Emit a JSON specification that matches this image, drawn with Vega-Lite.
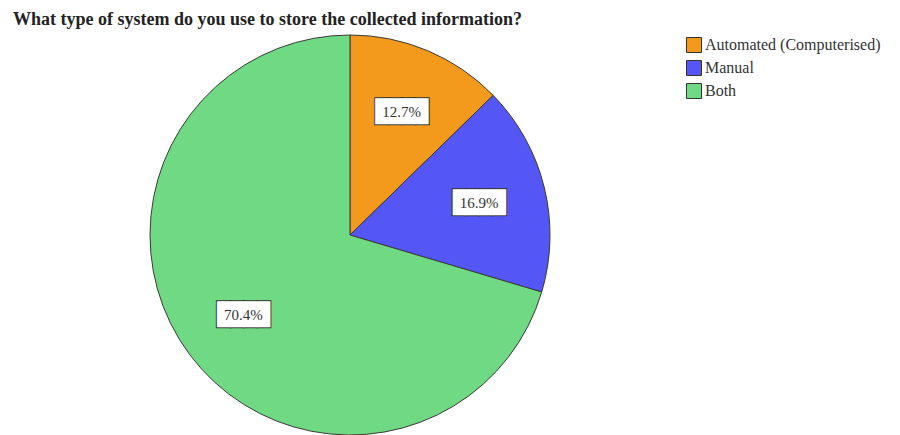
{
  "$schema": "https://vega.github.io/schema/vega-lite/v6.json",
  "width": 700,
  "height": 400,
  "autosize": {"type": "none"},
  "padding": {"left": 0, "top": 35, "right": 200, "bottom": 0},
  "background": "white",
  "title": {
    "text": "What type of system do you use to store the collected information?",
    "anchor": "start",
    "frame": "group",
    "dx": 13,
    "offset": 4,
    "font": "Liberation Serif",
    "fontSize": 18,
    "fontWeight": "bold",
    "color": "#222222"
  },
  "data": {
    "values": [
      {"category": "Automated (Computerised)", "value": 12.7, "label": "12.7%", "order": 1},
      {"category": "Manual", "value": 16.9, "label": "16.9%", "order": 2},
      {"category": "Both", "value": 70.4, "label": "70.4%", "order": 3}
    ]
  },
  "encoding": {
    "theta": {"field": "value", "type": "quantitative", "stack": true},
    "order": {"field": "order", "type": "ordinal"}
  },
  "layer": [
    {
      "mark": {"type": "arc", "outerRadius": 200, "stroke": "#3a3a3a", "strokeWidth": 1},
      "encoding": {
        "color": {
          "field": "category",
          "type": "nominal",
          "scale": {
            "domain": ["Automated (Computerised)", "Manual", "Both"],
            "range": ["#F39A1C", "#5457F5", "#6FD983"]
          },
          "legend": {
            "orient": "none",
            "legendX": 686,
            "legendY": 2,
            "title": null,
            "symbolType": "square",
            "symbolSize": 225,
            "symbolStrokeColor": "#333333",
            "symbolStrokeWidth": 1,
            "labelFont": "Liberation Serif",
            "labelFontSize": 16,
            "labelColor": "#333333",
            "labelLimit": 300,
            "rowPadding": 3,
            "labelOffset": 3
          }
        }
      }
    },
    {
      "mark": {"type": "text", "radius": 133, "text": "████", "font": "DejaVu Sans Mono", "fontSize": 22, "fill": "white", "stroke": "#333333", "strokeWidth": 2}
    },
    {
      "mark": {"type": "text", "radius": 133, "text": "████", "font": "DejaVu Sans Mono", "fontSize": 22, "fill": "white"}
    },
    {
      "mark": {"type": "text", "radius": 133, "font": "Liberation Serif", "fontSize": 15, "fill": "#333333"},
      "encoding": {"text": {"field": "label", "type": "nominal"}}
    }
  ],
  "config": {"view": {"stroke": null}}
}
